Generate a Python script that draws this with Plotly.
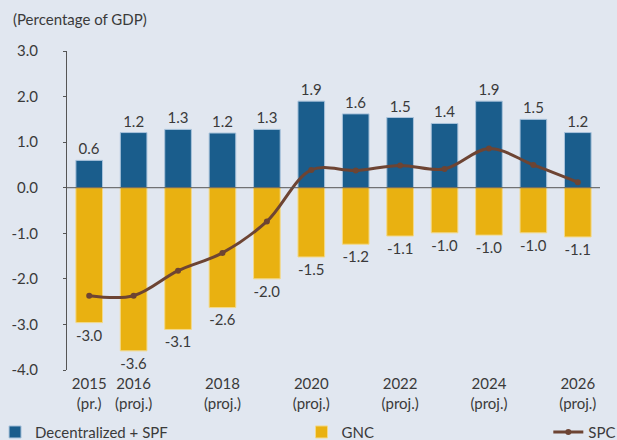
import plotly.graph_objects as go

# values (percentage of GDP)
years = [2015, 2016, 2017, 2018, 2019, 2020, 2021, 2022, 2023, 2024, 2025, 2026]
decentralized_spf = [0.6, 1.21, 1.28, 1.2, 1.28, 1.9, 1.62, 1.54, 1.41, 1.9, 1.5, 1.21]
gnc = [-2.96, -3.58, -3.11, -2.63, -2.0, -1.52, -1.24, -1.06, -0.99, -1.04, -0.99, -1.08]
spc = [-2.37, -2.37, -1.82, -1.43, -0.74, 0.39, 0.38, 0.49, 0.41, 0.86, 0.5, 0.12]

tick_years = [2015, 2016, 2018, 2020, 2022, 2024, 2026]
tick_text = ["2015<br>(pr.)", "2016<br>(proj.)", "2018<br>(proj.)", "2020<br>(proj.)",
             "2022<br>(proj.)", "2024<br>(proj.)", "2026<br>(proj.)"]
y_ticks = [3, 2, 1, 0, -1, -2, -3, -4]
y_text = [f"{v:.1f}" for v in y_ticks]

font = "Lato, 'Open Sans', sans-serif"
txt = "#3a3a3a"
bg = "#e1e7f0"

fig = go.Figure()
fig.add_trace(go.Bar(
    x=years, y=decentralized_spf, name="Decentralized + SPF",
    marker=dict(color="#1a5d8c", line=dict(color="#a9c3dc", width=1)),
    text=[f"{v:.1f}" for v in decentralized_spf], textposition="outside",
    textfont=dict(size=15, color=txt), cliponaxis=False, legend="legend",
))
fig.add_trace(go.Bar(
    x=years, y=gnc, name="GNC",
    marker=dict(color="#e9b111", line=dict(color="#f3d98a", width=1)),
    text=[f"{v:.1f}" for v in gnc], textposition="outside",
    textfont=dict(size=15, color=txt), cliponaxis=False, legend="legend2",
))
fig.add_trace(go.Scatter(
    x=years, y=spc, name="SPC", mode="lines+markers",
    line=dict(color="#6d4433", width=3, shape="spline"),
    marker=dict(size=6, color="#6d4433"), legend="legend3",
))

legend_common = dict(orientation="h", yanchor="middle", y=-0.195,
                     font=dict(size=15, color=txt, family=font),
                     bgcolor="rgba(0,0,0,0)", itemwidth=30)
fig.update_layout(
    width=617, height=440,
    barmode="relative", bargap=0.4,
    paper_bgcolor=bg, plot_bgcolor=bg,
    font=dict(family=font, size=15, color=txt),
    margin=dict(l=67, r=17, t=51, b=70, autoexpand=False),
    showlegend=True,
    legend=dict(legend_common, x=-0.135, xanchor="left"),
    legend2=dict(legend_common, x=0.44, xanchor="left"),
    legend3=dict(legend_common, x=1.04, xanchor="right"),
    annotations=[dict(text="(Percentage of GDP)", xref="paper", yref="paper",
                      x=-0.105, y=1.1, xanchor="left", yanchor="middle",
                      showarrow=False, font=dict(size=15, color=txt))],
    shapes=[dict(type="line", xref="paper", yref="y", x0=0, x1=1, y0=0, y1=0,
                 line=dict(color="#555555", width=1), layer="above")],
)
fig.update_xaxes(
    range=[2014.5, 2026.5], tickvals=tick_years, ticktext=tick_text,
    showgrid=False, zeroline=False, ticks="", showline=False,
    ticklabelstandoff=3, tickfont=dict(size=15, color=txt),
)
fig.update_yaxes(
    range=[-4, 3], tickvals=y_ticks, ticktext=y_text, showgrid=False,
    zeroline=False, showline=True, linecolor="#555555", linewidth=1,
    ticks="outside", ticklen=3, tickcolor="#555555", ticklabelstandoff=22,
    tickfont=dict(size=15, color=txt),
)

fig.write_html("out.html", config={"displayModeBar": False},
               post_script="document.body.style.margin='0';")
